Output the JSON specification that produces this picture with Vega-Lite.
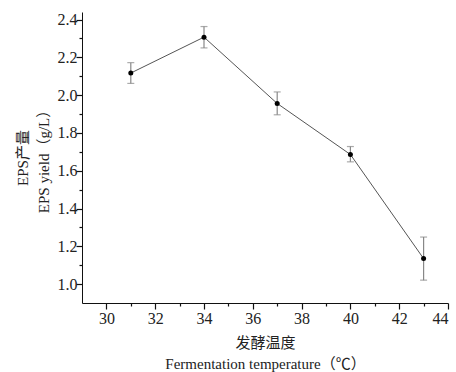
{
  "$schema": "https://vega.github.io/schema/vega-lite/v6.json",
  "width": 366,
  "height": 291,
  "autosize": {"type": "none"},
  "padding": {"left": 82, "top": 12, "right": 8, "bottom": 69},
  "background": "white",
  "config": {
    "view": {"stroke": null},
    "axis": {
      "grid": false,
      "ticks": true,
      "domainColor": "#111",
      "tickColor": "#111",
      "tickWidth": 1.2,
      "labelFont": "Liberation Serif",
      "labelFontSize": 16,
      "labelColor": "#222",
      "titleFont": "Liberation Serif, Noto Sans CJK SC",
      "titleFontSize": 15,
      "titleFontWeight": "normal",
      "titleColor": "#222"
    }
  },
  "data": {
    "values": [
      {"t": 31, "y": 2.117, "lo": 2.062, "hi": 2.172},
      {"t": 34, "y": 2.307, "lo": 2.250, "hi": 2.363},
      {"t": 37, "y": 1.956, "lo": 1.896, "hi": 2.017},
      {"t": 40, "y": 1.686, "lo": 1.647, "hi": 1.728},
      {"t": 43, "y": 1.135, "lo": 1.021, "hi": 1.249}
    ]
  },
  "layer": [
    {
      "mark": {"type": "point", "opacity": 0},
      "encoding": {
        "x": {"field": "t", "type": "quantitative", "scale": {"domain": [29, 44], "nice": false, "zero": false},
          "axis": {"values": [30, 32, 34, 36, 38, 40, 42, 44], "ticks": true, "tickSize": 6, "tickColor": "#111", "labelPadding": 1, "encode": {"ticks": {"update": {"y2": {"value": -6}}}}, "title": ["发酵温度", "Fermentation temperature（℃）"], "titleLineHeight": 21, "titlePadding": 9, "orient": "bottom"}},
        "y": {"field": "y", "type": "quantitative", "scale": {"domain": [0.9, 2.44], "nice": false, "zero": false},
          "axis": {"values": [1.0, 1.2, 1.4, 1.6, 1.8, 2.0, 2.2, 2.4], "format": ".1f", "ticks": true, "tickSize": 6, "tickColor": "#111", "labelPadding": -1, "encode": {"ticks": {"update": {"x2": {"value": 6}}}}, "title": ["EPS产量", "EPS yield（g/L）"], "titleLineHeight": 21, "titlePadding": 6, "orient": "left"}}
      }
    },
    {
      "mark": {"type": "point", "opacity": 0},
      "encoding": {
        "x": {"field": "t", "type": "quantitative",
          "axis": {"values": [31, 33, 35, 37, 39, 41, 43], "labels": false, "domain": false, "ticks": true, "tickSize": 3, "tickColor": "#111", "encode": {"ticks": {"update": {"y2": {"value": -3}}}}, "title": null, "orient": "bottom"}},
        "y": {"field": "y", "type": "quantitative",
          "axis": {"values": [1.1, 1.3, 1.5, 1.7, 1.9, 2.1, 2.3], "labels": false, "domain": false, "ticks": true, "tickSize": 3, "tickColor": "#111", "encode": {"ticks": {"update": {"x2": {"value": 3}}}}, "title": null, "orient": "left"}}
      }
    },
    {
      "mark": {"type": "rule", "color": "#888", "strokeWidth": 1.2},
      "encoding": {
        "x": {"field": "t", "type": "quantitative", "axis": null},
        "y": {"field": "lo", "type": "quantitative", "axis": null},
        "y2": {"field": "hi"}
      }
    },
    {
      "mark": {"type": "tick", "orient": "horizontal", "color": "#888", "size": 7, "thickness": 1.2},
      "encoding": {
        "x": {"field": "t", "type": "quantitative", "axis": null},
        "y": {"field": "lo", "type": "quantitative", "axis": null}
      }
    },
    {
      "mark": {"type": "tick", "orient": "horizontal", "color": "#888", "size": 7, "thickness": 1.2},
      "encoding": {
        "x": {"field": "t", "type": "quantitative", "axis": null},
        "y": {"field": "hi", "type": "quantitative", "axis": null}
      }
    },
    {
      "mark": {"type": "line", "color": "#555", "strokeWidth": 1},
      "encoding": {
        "x": {"field": "t", "type": "quantitative", "axis": null},
        "y": {"field": "y", "type": "quantitative", "axis": null}
      }
    },
    {
      "mark": {"type": "point", "filled": true, "color": "#000", "size": 25, "opacity": 1},
      "encoding": {
        "x": {"field": "t", "type": "quantitative", "axis": null},
        "y": {"field": "y", "type": "quantitative", "axis": null}
      }
    }
  ],
  "resolve": {"axis": {"x": "independent", "y": "independent"}}
}
